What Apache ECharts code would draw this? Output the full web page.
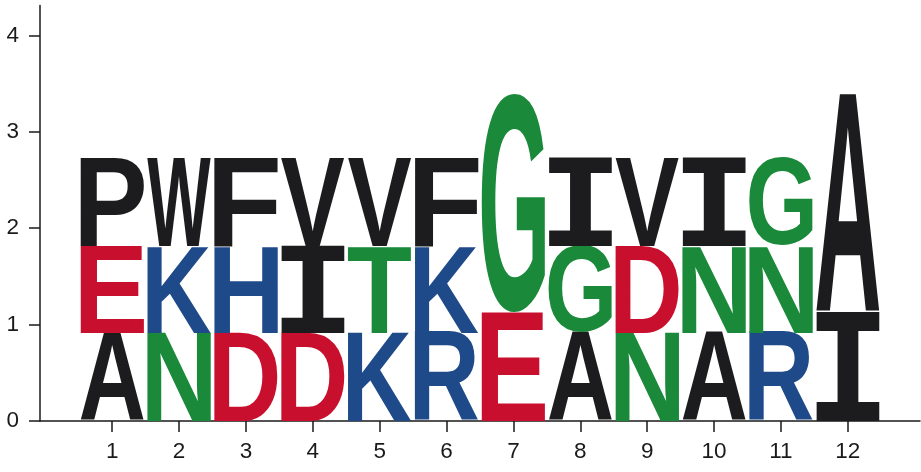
<!DOCTYPE html>
<html><head><meta charset="utf-8">
<script src="https://cdn.jsdelivr.net/npm/echarts@6/dist/echarts.min.js"></script>
<style>html,body{margin:0;padding:0;background:#fff}#c{width:921px;height:472px}</style>
</head><body><div id="c"></div>
<script>
// ---- data ----
const positions = [1, 2, 3, 4, 5, 6, 7, 8, 9, 10, 11, 12];
const bottomLetters = ['A','N','D','D','K','R','E','A','N','A','R','I'];
const bottomHeights = [0.917,0.917,0.917,0.917,0.917,0.917,1.129,0.917,0.917,0.917,0.917,1.129];
const middleLetters = ['E','K','H','I','T','K','G','G','D','N','N','A'];
const middleHeights = [0.901,0.901,0.901,0.901,0.901,0.901,2.268,0.901,0.901,0.901,0.901,2.268];
const topLetters = ['P','W','F','V','V','F','','I','V','I','G',''];
const topHeights = [0.922,0.922,0.922,0.922,0.922,0.922,0,0.922,0.922,0.922,0.922,0];
const yTicks = [0, 1, 2, 3, 4];

// ---- styles ----
const BLACK = '#1c1b1d', RED = '#c8102e', BLUE = '#1f4a8a', GREEN = '#1a8a3a';
const letterColors = {A:BLACK,P:BLACK,W:BLACK,F:BLACK,V:BLACK,I:BLACK,
  E:RED,D:RED, K:BLUE,R:BLUE,H:BLUE, N:GREEN,G:GREEN,T:GREEN};
const halfWidth = 0.475;
const axisColor = '#1a1a1a';
const labelSize = 22.5;

function fontFor(letter){
  return letter === 'I' ? 'bold 200px "DejaVu Sans Mono"' : 'bold 200px "Liberation Sans"';
}
const mctx = document.createElement('canvas').getContext('2d');
const gcache = {};
function glyph(letter){
  const font = fontFor(letter);
  const key = font + letter;
  if (!gcache[key]) {
    mctx.font = font; mctx.textBaseline = 'middle'; mctx.textAlign = 'left';
    const m = mctx.measureText(letter);
    gcache[key] = {l:m.actualBoundingBoxLeft, r:m.actualBoundingBoxRight,
                   a:m.actualBoundingBoxAscent, d:m.actualBoundingBoxDescent, font};
  }
  return gcache[key];
}

// stack letters
const stacked = [];
const stackedLetters = [];
positions.forEach((p, i) => {
  let base = 0;
  [[bottomLetters, bottomHeights],[middleLetters, middleHeights],[topLetters, topHeights]].forEach(([L, H]) => {
    if (L[i] && H[i] > 0) {
      stacked.push([p, base, base + H[i]]);
      stackedLetters.push(L[i]);
      base += H[i];
    }
  });
});

const chart = echarts.init(document.getElementById('c'), null, {renderer:'canvas'});
chart.setOption({
  animation: false,
  grid: {left: 40, right: 1, top: 5.5, bottom: 51, containLabel: false, outerBoundsMode: 'none'},
  xAxis: {
    type: 'value', min: -0.08, max: 13.08,
    axisLine: {show: true, onZero: false, lineStyle: {color: axisColor, width: 1.5}},
    axisTick: {show: true, customValues: positions, length: 11, lineStyle: {color: axisColor, width: 1.5}},
    axisLabel: {customValues: positions, fontSize: labelSize, color: axisColor, margin: 19, fontFamily: 'Liberation Sans'},
    splitLine: {show: false}
  },
  yAxis: {
    type: 'value', min: 0, max: 4.31,
    axisLine: {show: true, onZero: false, lineStyle: {color: axisColor, width: 1.5}},
    axisTick: {show: true, customValues: yTicks, length: 11, lineStyle: {color: axisColor, width: 1.5}},
    axisLabel: {customValues: yTicks, fontSize: labelSize, color: axisColor, margin: 21, fontFamily: 'Liberation Sans'},
    splitLine: {show: false}
  },
  series: [{
    type: 'custom',
    silent: true,
    data: stacked,
    renderItem: function (params, api) {
      const x = api.value(0), y0 = api.value(1), y1 = api.value(2);
      const letter = stackedLetters[params.dataIndex];
      const p0 = api.coord([x - halfWidth, y1]);
      const p1 = api.coord([x + halfWidth, y0]);
      const g = glyph(letter);
      const sx = (p1[0] - p0[0]) / (g.l + g.r);
      const sy = (p1[1] - p0[1]) / (g.a + g.d);
      return {
        type: 'text',
        x: p0[0] + g.l * sx,
        y: p0[1] + g.a * sy,
        scaleX: sx, scaleY: sy,
        style: {text: letter, font: g.font, fill: letterColors[letter],
                align: 'left', verticalAlign: 'middle'}
      };
    }
  }]
});
</script></body></html>
